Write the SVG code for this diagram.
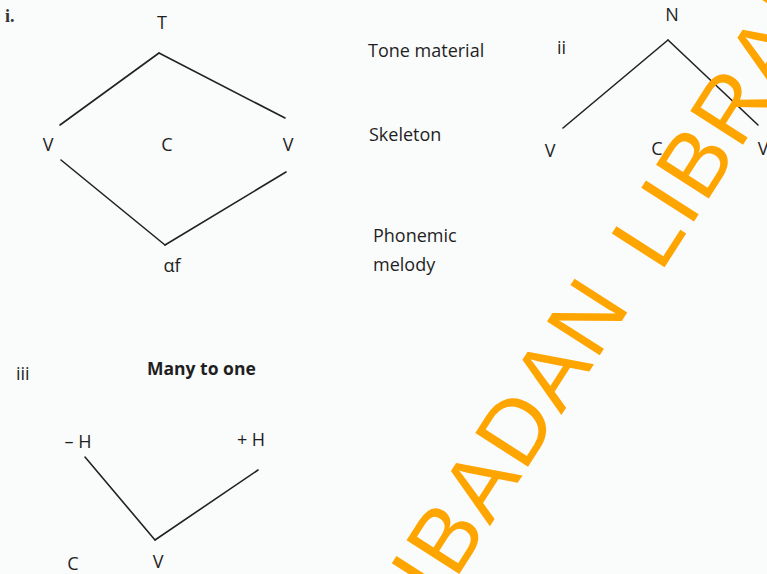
<svg xmlns="http://www.w3.org/2000/svg" width="767" height="574" viewBox="0 0 767 574">
<style>
.lb{font-family:"Open Sans","Noto Sans",sans-serif;font-size:18px;font-weight:500;fill:#1f1f1f;text-anchor:middle}
.tx{font-family:"Open Sans","Noto Sans",sans-serif;font-size:18px;font-weight:500;fill:#1f1f1f}
.bold{font-weight:700;font-size:17.5px}
.num{font-family:"Liberation Serif",serif;font-size:18px;font-weight:700;fill:#333}
.ln{stroke:#222;stroke-width:1.6;fill:none;stroke-linecap:round}
.wm{font-family:"Liberation Sans",Arial,sans-serif;font-size:91px;letter-spacing:3px;fill:#FFA500}
</style>
<rect width="767" height="574" fill="#fafbfb"/>
<g id="labels-side">
<text class="tx" x="368" y="57">Tone material</text>
<text class="tx" x="369" y="141">Skeleton</text>
<text class="tx" x="373" y="242">Phonemic</text>
<text class="tx" x="373" y="271">melody</text>
<text class="num" x="5" y="22">i.</text>
<text class="tx" x="557" y="54" font-size="16">ii</text>
<text class="tx" x="16" y="380" font-size="15">iii</text>
<text class="tx bold" x="147" y="375">Many to one</text>
</g>
<g id="node-T"><text class="lb" x="162" y="29">T</text></g>
<g id="node-V1"><text class="lb" x="48" y="151">V</text></g>
<g id="node-C1"><text class="lb" x="167" y="151">C</text></g>
<g id="node-V2"><text class="lb" x="288" y="151">V</text></g>
<g id="node-af"><text class="lb" x="172" y="272">αf</text></g>
<g id="node-N"><text class="lb" x="672" y="21">N</text></g>
<g id="node-V3"><text class="lb" x="550" y="157">V</text></g>
<g id="node-C2"><text class="lb" x="657" y="155">C</text></g>
<g id="node-V4"><text class="lb" x="763" y="155">V</text></g>
<g id="node-mH"><text class="lb" x="78" y="448">– H</text></g>
<g id="node-pH"><text class="lb" x="251" y="446">+ H</text></g>
<g id="node-C3"><text class="lb" x="73" y="570">C</text></g>
<g id="node-V5"><text class="lb" x="158" y="568">V</text></g>
<g id="connectors">
<line class="ln" x1="159" y1="53" x2="60" y2="125"/>
<line class="ln" x1="159" y1="53" x2="285" y2="118"/>
<line class="ln" x1="61" y1="160" x2="165" y2="245"/>
<line class="ln" x1="165" y1="245" x2="286" y2="172"/>
<line class="ln" x1="668" y1="40" x2="563" y2="128"/>
<line class="ln" x1="668" y1="40" x2="758" y2="125"/>
<line class="ln" x1="85" y1="457" x2="155" y2="540"/>
<line class="ln" x1="155" y1="540" x2="258" y2="470"/>
</g>
<g id="watermark">
<text class="wm" x="440" y="604" transform="rotate(-57.3 440 604)">IBADAN <tspan dx="12" dy="7">LIBRARY</tspan></text>
</g>
</svg>
